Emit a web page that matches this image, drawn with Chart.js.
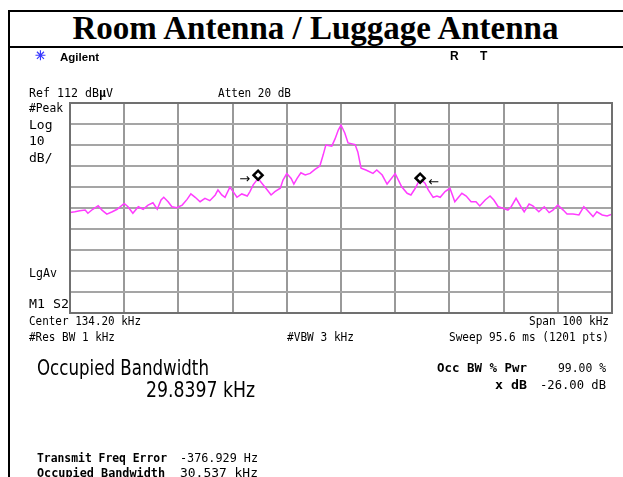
<!DOCTYPE html>
<html>
<head>
<meta charset="utf-8">
<script src="https://cdn.jsdelivr.net/npm/chart.js@4"></script>
<style>
  body { margin: 0; width: 623px; height: 477px; overflow: hidden; background: #fff; position: relative; }
  #spec { position: absolute; left: 0; top: 0; }
  .bar { position: absolute; background: #000; }
  .t { position: absolute; white-space: nowrap; color: #000; transform-origin: left center; }
  .m { font: 13px/12px "DejaVu Sans Mono", monospace; }
  .mb { font: bold 13px/12px "DejaVu Sans Mono", monospace; }
  .big { font: 21px/20px "DejaVu Sans", sans-serif; }
  .hd { font: bold 11px/11px "Liberation Sans", Arial, sans-serif; }
  .title { position: absolute; left: 8px; right: 0; top: 11px; text-align: center;
           font: bold 33px/35px "Liberation Serif", "Times New Roman", serif; }
</style>
</head>
<body>
<div class="bar" style="left:8px;top:10px;width:2px;height:467px"></div>
<div class="bar" style="left:8px;top:10px;width:615px;height:2px"></div>
<div class="bar" style="left:8px;top:46px;width:615px;height:2px"></div>
<div class="title">Room Antenna / Luggage Antenna</div>

<canvas id="spec" width="623" height="477"></canvas>

<div class="t hd" style="left:35px;top:50px;color:#3a3aff;font-size:13px">&#10035;</div>
<div class="t hd" style="left:60px;top:52px" data-w="39">Agilent</div>
<div class="t hd" style="left:450px;top:51px;font-size:12px">R</div>
<div class="t hd" style="left:480px;top:51px;font-size:12px">T</div>

<div class="t m" style="left:29px;top:87px" data-w="84">Ref 112 dB<b>µ</b>V</div>
<div class="t m" style="left:218px;top:87px" data-w="73">Atten 20 dB</div>
<div class="t m" style="left:29px;top:102px" data-w="34">#Peak</div>
<div class="t m" style="left:29px;top:119px">Log</div>
<div class="t m" style="left:29px;top:135px">10</div>
<div class="t m" style="left:29px;top:152px">dB/</div>
<div class="t m" style="left:29px;top:267px" data-w="28">LgAv</div>
<div class="t m" style="left:29px;top:298px" data-w="40">M1  S2</div>
<div class="t m" style="left:29px;top:315px" data-w="112">Center 134.20 kHz</div>
<div class="t m" style="left:529px;top:315px" data-w="80">Span 100 kHz</div>
<div class="t m" style="left:29px;top:331px" data-w="86">#Res BW 1 kHz</div>
<div class="t m" style="left:287px;top:331px" data-w="67">#VBW 3 kHz</div>
<div class="t m" style="left:449px;top:331px" data-w="160">Sweep 95.6 ms (1201 pts)</div>

<div class="t big" style="left:37px;top:358px" data-w="172">Occupied Bandwidth</div>
<div class="t big" style="left:146px;top:380px" data-w="109">29.8397 kHz</div>
<div class="t mb" style="left:437px;top:362px" data-w="90">Occ BW % Pwr</div>
<div class="t m" style="left:558px;top:362px" data-w="48">99.00 %</div>
<div class="t mb" style="left:495px;top:379px" data-w="32">x dB</div>
<div class="t m" style="left:540px;top:379px" data-w="66">-26.00 dB</div>

<div class="t mb" style="left:37px;top:452px" data-w="130">Transmit Freq Error</div>
<div class="t m" style="left:180px;top:452px" data-w="78">-376.929 Hz</div>
<div class="t mb" style="left:37px;top:467px" data-w="128">Occupied Bandwidth</div>
<div class="t m" style="left:180px;top:467px" data-w="78">30.537 kHz</div>

<script>
// trace (kHz / dBuV)
var freqKHz = [84.2, 85.1, 86.0, 87.0, 87.5, 88.4, 89.4, 90.1, 91.0, 92.0,
    92.9, 94.2, 94.9, 95.8, 96.8, 97.7, 98.6, 99.5, 100.3, 101.0,
    101.5, 102.3, 103.0, 103.9, 104.9, 105.8, 106.5, 107.3, 108.2, 109.1,
    110.0, 111.0, 111.5, 112.2, 112.8, 113.7, 114.3, 115.0, 115.9, 116.9,
    117.4, 118.0, 118.9, 119.6, 120.6, 121.3, 122.0, 123.0, 123.5, 124.2,
    125.0, 125.5, 126.1, 126.8, 127.6, 128.5, 129.4, 130.3, 130.9, 131.4,
    132.5, 133.1, 133.7, 134.2, 134.9, 135.5, 136.8, 137.3, 137.9, 138.8,
    140.1, 140.8, 141.8, 142.7, 144.2, 145.4, 146.4, 147.1, 147.9, 148.8,
    149.7, 150.3, 151.2, 151.9, 152.5, 153.4, 154.3, 155.2, 156.5, 157.3,
    158.2, 159.1, 159.8, 160.8, 161.7, 162.4, 163.2, 164.1, 165.0, 165.6,
    166.5, 167.4, 168.0, 168.9, 169.6, 170.7, 171.7, 172.6, 173.3, 174.2,
    175.2, 175.9, 177.0, 178.1, 179.0, 179.6, 180.7, 181.4, 182.4, 183.3,
    184.2];
var traceDbuv = [59.8, 60.2, 60.7, 61.0, 59.5, 61.4, 63.1, 61.0, 59.1, 60.2,
    61.4, 64.2, 62.6, 59.5, 62.6, 61.4, 63.4, 64.5, 61.4, 65.8,
    67.1, 65.0, 62.6, 62.1, 63.4, 66.1, 68.7, 67.1, 65.0, 66.6,
    65.5, 68.2, 70.6, 68.2, 67.1, 71.9, 69.8, 67.1, 68.7, 67.7,
    69.8, 73.0, 76.1, 73.8, 70.6, 68.2, 69.8, 71.4, 75.3, 78.4,
    76.1, 73.4, 76.1, 78.8, 77.7, 78.5, 80.4, 82.0, 87.2, 92.0,
    91.5, 94.9, 99.1, 101.5, 97.7, 93.0, 92.2, 88.7, 81.0, 80.1,
    78.5, 80.1, 77.7, 73.4, 78.4, 72.1, 69.0, 68.2, 71.4, 76.0,
    73.8, 70.6, 67.1, 67.7, 67.1, 69.8, 71.4, 65.0, 69.0, 67.7,
    65.0, 65.0, 63.0, 65.8, 67.7, 65.8, 62.6, 61.9, 61.0, 62.6,
    66.6, 62.6, 60.2, 63.9, 63.0, 60.2, 62.6, 59.8, 61.0, 63.4,
    61.0, 59.1, 59.1, 58.7, 62.6, 61.0, 57.9, 60.2, 58.7, 58.2,
    59.1];

// occupied bandwidth markers
var markerKHz = [118.9, 148.8];
var markerDbuv = [77.6, 76.2];
var markerArrows = ['\u2192', '\u2190'];

// graticule: 10 kHz/div, 10 dB/div
var freqTicks = [84.2, 94.2, 104.2, 114.2, 124.2, 134.2, 144.2, 154.2, 164.2, 174.2, 184.2];
var levelTicks = [12, 22, 32, 42, 52, 62, 72, 82, 92, 102, 112];

var screenPlugin = {
    id: 'screen',
    afterDatasetsDraw: function (chart) {
        var ctx = chart.ctx, a = chart.chartArea;
        ctx.save();
        ctx.strokeStyle = '#707070';
        ctx.lineWidth = 2;
        ctx.strokeRect(a.left, a.top, a.right - a.left, a.bottom - a.top);
        var pts = chart.getDatasetMeta(0).data;
        ctx.fillStyle = '#000';
        ctx.font = '13px "DejaVu Sans", sans-serif';
        ctx.textBaseline = 'middle';
        pts.forEach(function (p, i) {
            if (i === 0) {
                ctx.textAlign = 'right';
                ctx.fillText(markerArrows[i], p.x - 8, p.y + 4);
            } else {
                ctx.textAlign = 'left';
                ctx.fillText(markerArrows[i], p.x + 8, p.y + 4);
            }
        });
        ctx.restore();
    }
};

var spec = new Chart(document.getElementById('spec'), {
    type: 'line',
    data: {
        datasets: [
            {
                label: 'Marker',
                data: markerKHz.map(function (f, i) { return { x: f, y: markerDbuv[i] }; }),
                showLine: false,
                pointStyle: 'rectRot',
                pointRadius: 4.5,
                pointBorderWidth: 2.5,
                pointBorderColor: '#000',
                pointBackgroundColor: '#fff',
                order: 0
            },
            {
                label: 'Trace',
                data: freqKHz.map(function (f, i) { return { x: f, y: traceDbuv[i] }; }),
                borderColor: '#ff3cff',
                borderWidth: 1.5,
                pointRadius: 0,
                tension: 0,
                order: 1
            }
        ]
    },
    options: {
        responsive: false,
        animation: false,
        devicePixelRatio: 1,
        layout: { padding: { left: 70, top: 103, right: 11, bottom: 164 } },
        plugins: { legend: { display: false }, tooltip: { enabled: false } },
        scales: {
            x: {
                type: 'linear',
                min: 84.2,
                max: 184.2,
                afterBuildTicks: function (s) { s.ticks = freqTicks.map(function (v) { return { value: v }; }); },
                ticks: { display: false },
                grid: { color: '#999999', lineWidth: 2, drawTicks: false },
                border: { color: '#707070', width: 2 }
            },
            y: {
                min: 12,
                max: 112,
                afterBuildTicks: function (s) { s.ticks = levelTicks.map(function (v) { return { value: v }; }); },
                ticks: { display: false },
                grid: { color: '#a5a5a5', lineWidth: 2, drawTicks: false },
                border: { color: '#707070', width: 2 }
            }
        }
    },
    plugins: [screenPlugin]
});

// squeeze the instrument text to the widths seen on screen
document.querySelectorAll('[data-w]').forEach(function (el) {
    var w = el.getBoundingClientRect().width;
    var target = parseFloat(el.getAttribute('data-w'));
    if (w > 0) el.style.transform = 'scaleX(' + (target / w).toFixed(3) + ')';
});
</script>
</body>
</html>
